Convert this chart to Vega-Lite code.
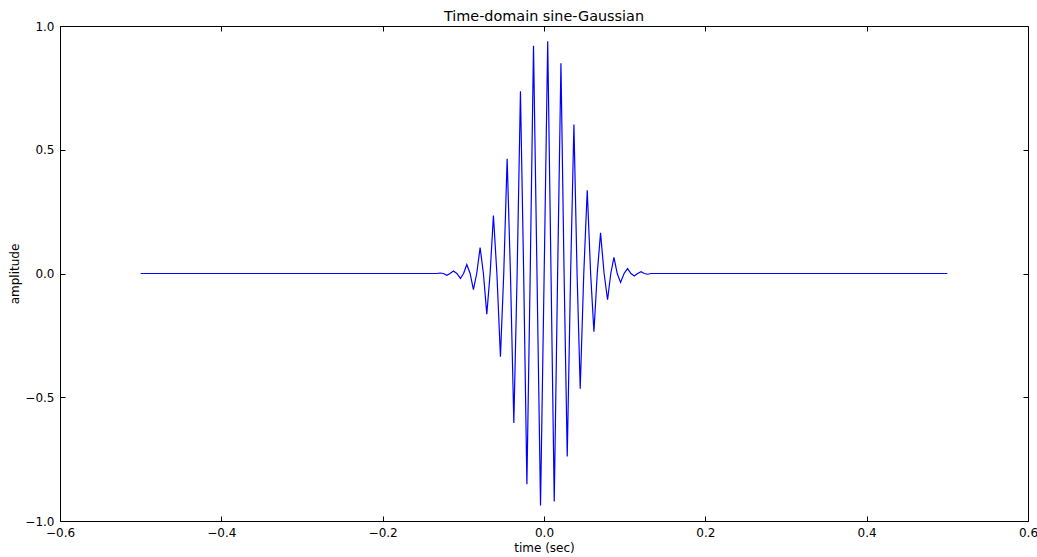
{
  "$schema": "https://vega.github.io/schema/vega-lite/v6.json",
  "width": 968,
  "height": 495,
  "autosize": {"type": "none"},
  "padding": {"left": 60, "top": 26, "right": 9, "bottom": 36},
  "background": "white",
  "config": {
    "font": "DejaVu Sans",
    "view": {"stroke": null},
    "axis": {
      "grid": false,
      "domainColor": "#000000",
      "domainWidth": 1,
      "tickColor": "#000000",
      "tickSize": -5,
      "tickWidth": 1,
      "labelColor": "#000000",
      "labelFont": "DejaVu Sans",
      "labelFontSize": 12,
      "titleFont": "DejaVu Sans",
      "titleFontSize": 12,
      "titleFontWeight": "normal",
      "titleColor": "#000000",
      "labelFlush": false,
      "labelOverlap": false
    },
    "title": {"font": "DejaVu Sans", "fontSize": 14.4, "fontWeight": "normal", "color": "#000000", "offset": -4}
  },
  "title": "Time-domain sine-Gaussian",
  "data": {
    "values": [
      {"t": -0.5, "amp": 0},
      {"t": -0.14, "amp": 0},
      {"t": -0.1330, "amp": 0},
      {"t": -0.1288, "amp": 0.002},
      {"t": -0.1247, "amp": 0},
      {"t": -0.1205, "amp": -0.007},
      {"t": -0.1164, "amp": 0},
      {"t": -0.1123, "amp": 0.010},
      {"t": -0.1080, "amp": 0},
      {"t": -0.1036, "amp": -0.020},
      {"t": -0.0997, "amp": 0},
      {"t": -0.0957, "amp": 0.036},
      {"t": -0.0916, "amp": 0},
      {"t": -0.0875, "amp": -0.065},
      {"t": -0.0834, "amp": 0},
      {"t": -0.0792, "amp": 0.105},
      {"t": -0.0751, "amp": 0},
      {"t": -0.0709, "amp": -0.164},
      {"t": -0.0668, "amp": 0},
      {"t": -0.0627, "amp": 0.234},
      {"t": -0.0584, "amp": 0},
      {"t": -0.0540, "amp": -0.336},
      {"t": -0.0499, "amp": 0},
      {"t": -0.0457, "amp": 0.464},
      {"t": -0.0416, "amp": 0},
      {"t": -0.0374, "amp": -0.604},
      {"t": -0.0333, "amp": 0},
      {"t": -0.0292, "amp": 0.736},
      {"t": -0.0252, "amp": 0},
      {"t": -0.0212, "amp": -0.851},
      {"t": -0.0171, "amp": 0},
      {"t": -0.0130, "amp": 0.920},
      {"t": -0.0087, "amp": 0},
      {"t": -0.0043, "amp": -0.937},
      {"t": 0.0002, "amp": 0},
      {"t": 0.0046, "amp": 0.938},
      {"t": 0.0087, "amp": 0},
      {"t": 0.0127, "amp": -0.921},
      {"t": 0.0169, "amp": 0},
      {"t": 0.0210, "amp": 0.849},
      {"t": 0.0249, "amp": 0},
      {"t": 0.0288, "amp": -0.739},
      {"t": 0.0330, "amp": 0},
      {"t": 0.0371, "amp": 0.602},
      {"t": 0.0410, "amp": 0},
      {"t": 0.0449, "amp": -0.466},
      {"t": 0.0493, "amp": 0},
      {"t": 0.0536, "amp": 0.336},
      {"t": 0.0578, "amp": 0},
      {"t": 0.0619, "amp": -0.235},
      {"t": 0.0660, "amp": 0},
      {"t": 0.0701, "amp": 0.164},
      {"t": 0.0745, "amp": 0},
      {"t": 0.0788, "amp": -0.106},
      {"t": 0.0828, "amp": 0},
      {"t": 0.0867, "amp": 0.065},
      {"t": 0.0908, "amp": 0},
      {"t": 0.0949, "amp": -0.036},
      {"t": 0.0993, "amp": 0},
      {"t": 0.1036, "amp": 0.020},
      {"t": 0.1078, "amp": 0},
      {"t": 0.1119, "amp": -0.010},
      {"t": 0.1161, "amp": 0},
      {"t": 0.1203, "amp": 0.007},
      {"t": 0.1244, "amp": 0},
      {"t": 0.1284, "amp": -0.003},
      {"t": 0.1330, "amp": 0},
      {"t": 0.14, "amp": 0},
      {"t": 0.5, "amp": 0}
    ]
  },
  "layer": [
    {
      "mark": {"type": "point", "opacity": 0, "size": 1},
      "encoding": {
        "x": {
          "field": "t", "type": "quantitative",
          "scale": {"domain": [-0.6, 0.6], "nice": false, "zero": false},
          "axis": {"orient": "top", "title": null, "labels": false, "minExtent": 0, "maxExtent": 0, "values": [-0.6, -0.4, -0.2, 0, 0.2, 0.4, 0.6]}
        },
        "y": {
          "field": "amp", "type": "quantitative",
          "scale": {"domain": [-1, 1], "nice": false, "zero": false},
          "axis": {"orient": "right", "title": null, "labels": false, "minExtent": 0, "maxExtent": 0, "values": [-1, -0.5, 0, 0.5, 1]}
        }
      }
    },
    {
      "mark": {"type": "line", "color": "#0000ff", "strokeWidth": 1.2},
      "encoding": {
        "x": {
          "field": "t", "type": "quantitative",
          "scale": {"domain": [-0.6, 0.6], "nice": false, "zero": false},
          "axis": {
            "orient": "bottom", "title": "time (sec)", "values": [-0.6, -0.4, -0.2, 0, 0.2, 0.4, 0.6],
            "format": ".1f", "labelExpr": "replace(datum.label, '-', '\u2212')",
            "labelPadding": 11, "titlePadding": 4
          }
        },
        "y": {
          "field": "amp", "type": "quantitative",
          "scale": {"domain": [-1, 1], "nice": false, "zero": false},
          "axis": {
            "orient": "left", "title": "amplitude", "values": [-1, -0.5, 0, 0.5, 1],
            "format": ".1f", "labelExpr": "replace(datum.label, '-', '\u2212')",
            "labelPadding": 11, "titlePadding": 3
          }
        }
      }
    }
  ],
  "resolve": {"axis": {"x": "independent", "y": "independent"}}
}
